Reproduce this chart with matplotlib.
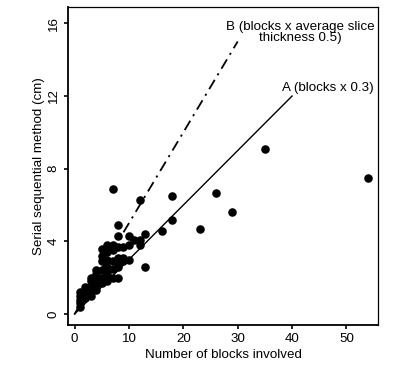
#!/usr/bin/env python3
"""Serial sequential method vs number of blocks involved."""

import matplotlib

matplotlib.use("Agg")
import matplotlib.pyplot as plt
import numpy as np

plt.rcParams["font.family"] = ["Liberation Sans", "DejaVu Sans"]

# (blocks, serial sequential estimate in cm)
BLOCKS = [
    1, 1, 1, 1, 1,
    2, 2, 2, 2,
    3, 3, 3, 3, 3,
    4, 4, 4, 4, 4,
    5, 5, 5, 5, 5, 5,
    6, 6, 6, 6, 6, 6,
    7, 7, 7, 7, 7, 7,
    8, 8, 8, 8, 8, 8, 8,
    9, 9, 9,
    10, 10, 10,
    11,
    12, 12, 12,
    13, 13,
    16, 18, 18, 23, 26, 29, 35, 54,
]
SERIAL_CM = [
    0.4, 0.6, 0.8, 1.0, 1.2,
    0.9, 1.1, 1.3, 1.5,
    1.0, 1.2, 1.5, 1.8, 2.0,
    1.3, 1.6, 2.0, 2.4, 2.2,
    1.7, 2.0, 2.4, 2.9, 3.2, 3.6,
    1.8, 2.2, 2.6, 3.0, 3.4, 3.8,
    2.0, 2.5, 2.9, 3.5, 3.8, 6.9,
    2.0, 2.6, 2.9, 3.1, 3.7, 4.3, 4.9,
    2.9, 3.1, 3.7,
    3.0, 3.8, 4.3,
    4.1,
    3.8, 4.1, 6.3,
    2.6, 4.4,
    4.6, 5.2, 6.5, 4.7, 6.65, 5.6, 9.1, 7.5,
]

# reference lines: A = blocks x 0.3, B = blocks x 0.5
LINE_A_SLOPE, LINE_A_END = 0.3, 40
LINE_B_SLOPE, LINE_B_END = 0.5, 30

X_TICKS = [0, 10, 20, 30, 40, 50]
Y_TICKS = [0, 4, 8, 12, 16]

FS = 9.6


def main() -> None:
    fig = plt.figure(figsize=(4.03, 3.68), dpi=100)
    ax = fig.add_axes([68 / 403, 43 / 368, 310 / 403, 318 / 368])

    ax.scatter(BLOCKS, SERIAL_CM, s=38, color="black", zorder=3, linewidths=0)

    xa = np.array([0, LINE_A_END])
    ax.plot(xa, LINE_A_SLOPE * xa, color="black", lw=1.0)
    xb = np.array([0, LINE_B_END])
    ax.plot(xb, LINE_B_SLOPE * xb, color="black", lw=1.3,
            linestyle=(0, (6, 3, 1.2, 3)))

    ax.text(41.6, 16.15, "B (blocks x average slice\nthickness 0.5)",
            ha="center", va="top", fontsize=FS, linespacing=0.9)
    ax.text(46.5, 12.3, "A (blocks x 0.3)", ha="center", va="baseline", fontsize=FS)

    ax.set_xlim(-1.2, 55.8)
    ax.set_ylim(-0.6, 16.9)
    ax.set_xticks(X_TICKS)
    ax.set_yticks(Y_TICKS)
    ax.tick_params(direction="out", length=3, width=1.2, labelsize=FS, pad=3)
    for lab in ax.get_yticklabels():
        lab.set_rotation(90)
        lab.set_va("center")
    ax.set_xlabel("Number of blocks involved", fontsize=FS, labelpad=3)
    ax.set_ylabel("Serial sequential method (cm)", fontsize=FS, labelpad=2)

    for side in ("left", "bottom"):
        ax.spines[side].set_linewidth(1.3)
    for side in ("top", "right"):
        ax.spines[side].set_linewidth(0.9)

    fig.savefig("out.png", dpi=100)
    plt.close(fig)


if __name__ == "__main__":
    main()
